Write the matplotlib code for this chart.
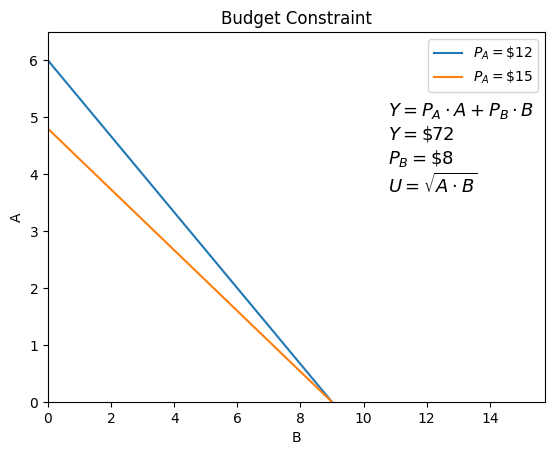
import numpy as np
import matplotlib.pyplot as plt

Y = 72
P_B = 8
P_A_values = [12, 15]
B = np.array([0, Y / P_B])

fig = plt.figure(figsize=(5.54, 4.55), dpi=100)
ax = fig.add_axes([48 / 554, 53 / 455, 497 / 554, 370 / 455])

for p_a in P_A_values:
    A = (Y - P_B * B) / p_a
    ax.plot(B, A, label=f'$P_A = \\${p_a}$')

ax.text(10.77, 5.29, '$Y = P_A \\cdot A + P_B \\cdot B$\n$Y = \\$72$\n$P_B = \\$8$\n$U = \\sqrt{A \\cdot B}$',
        fontsize=13, va='top', linespacing=1.22)

ax.set_xlim(0, 15.75)
ax.set_ylim(0, 6.5)
ax.set_xlabel('B')
ax.set_ylabel('A')
ax.set_title('Budget Constraint')
ax.legend(loc='upper right')

fig.savefig('out.png', dpi=100)
